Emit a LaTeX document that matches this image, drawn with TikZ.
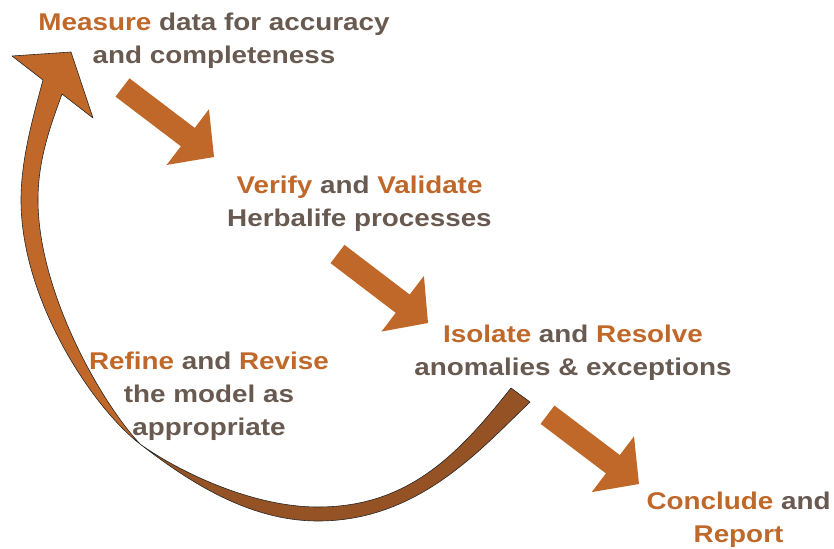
\documentclass[tikz,border=0pt]{standalone}
\usepackage{fontspec}
\setmainfont{Liberation Sans}[FakeStretch=1.15]
\usepackage{xcolor}
\usepackage{tikz}
\usetikzlibrary{calc}

\definecolor{hlOrange}{RGB}{191,104,42}
\definecolor{hlBrown}{RGB}{148,82,37}
\definecolor{hlText}{RGB}{104,90,80}
\newcommand{\hl}[1]{\textcolor{hlOrange}{#1}}
\newcommand{\BlockArrow}[2]{
	\def\ltail{#1}
	\def\ltip{#2}
	\fill[hlOrange] ($(\ltail)!11.5pt!-90:(\ltip)$) -- ($(\ltail)!82pt!(\ltip)!11.5pt!-90:(\ltip)$) -- ($(\ltail)!82pt!(\ltip)!35pt!-90:(\ltip)$) -- (\ltip) -- ($(\ltail)!82pt!(\ltip)!35pt!90:(\ltip)$) -- ($(\ltail)!82pt!(\ltip)!11.5pt!90:(\ltip)$) -- ($(\ltail)!11.5pt!90:(\ltip)$) -- cycle;
}

\begin{document}
\begin{tikzpicture}[x=1pt, y=-1pt,
		stage/.style={font=\fontsize{24.2}{33}\selectfont\bfseries, text=hlText, align=center, anchor=base, inner sep=0pt},
		ribbon/.style={draw=black!85, line width=0.6pt, line join=round}
	]

	\useasboundingbox (0,0) rectangle (834,548);

	% anchor=base sits on the last line
	\node[stage] (measure) at (214,63.5) {\hl{Measure} data for accuracy\\and completeness};
	\node[stage] (verify) at (359.5,226) {\hl{Verify} and \hl{Validate}\\Herbalife processes};
	\node[stage] (isolate) at (573,375) {\hl{Isolate} and \hl{Resolve}\\anomalies \& exceptions};
	\node[stage] (refine) at (209,435) {\hl{Refine} and \hl{Revise}\\the model as\\appropriate};
	\node[stage] (conclude) at (738.5,542.5) {\hl{Conclude} and\\\hl{Report}};

	\coordinate (A1) at (122.5,87.5);
	\coordinate (B1) at (214,157);
	\coordinate (A2) at (337.5,254);
	\coordinate (B2) at (428,323);
	\coordinate (A3) at (547.5,414.7);
	\coordinate (B3) at (639,484);

	\BlockArrow{A1}{B1}
	\BlockArrow{A2}{B2}
	\BlockArrow{A3}{B3}

	% return arrow, front face with head
	\coordinate (T) at (140,444);
	\filldraw[ribbon, fill=hlOrange] (43,80) -- (12,56) -- (71,52) -- (93,118) -- (62,94)
		.. controls (50,127) and (38,160) .. (38,200)
		.. controls (38,290) and (99.2,400.2) .. (T)
		.. controls (92.6,407.4) and (21,300) .. (21,200)
		.. controls (21,160) and (32.6,118.6) .. (43,80) -- cycle;
	% return arrow, back face
	\filldraw[ribbon, fill=hlBrown] (T)
		.. controls (187.4,480.6) and (248,521) .. (318,521)
		.. controls (418,521) and (479.6,450.3) .. (530,402)
		-- (511,388)
		.. controls (460,452) and (410,507) .. (318,507)
		.. controls (248,507) and (172.8,467.8) .. (T) -- cycle;

\end{tikzpicture}
\end{document}
